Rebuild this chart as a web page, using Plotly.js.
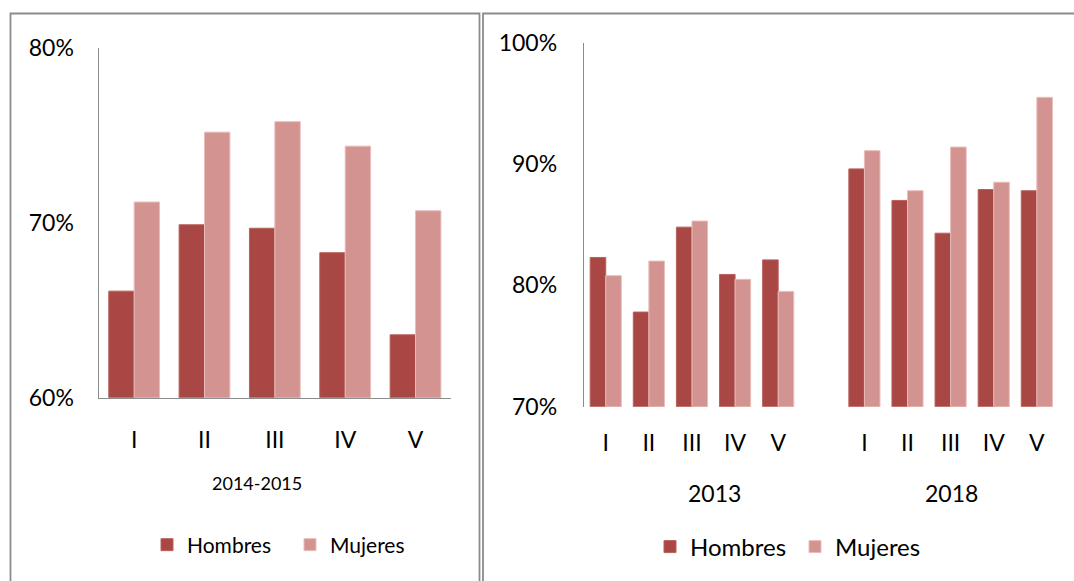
<!DOCTYPE html>
<html>
<head>
<meta charset="utf-8">
<script src="https://cdn.plot.ly/plotly-3.0.1.min.js"></script>
<style>html,body{margin:0;padding:0;background:#fff;}#chart{width:1074px;height:581px;}</style>
</head>
<body>
<div id="chart"></div>
<script>
// ---- Data ----
const groupsLeft = ['I', 'II', 'III', 'IV', 'V'];
const hombres2014_2015 = [66.1, 69.9, 69.7, 68.3, 63.6];
const mujeres2014_2015 = [71.2, 75.2, 75.8, 74.4, 70.7];

const groupsRight = ['I', 'II', 'III', 'IV', 'V'];
const hombres2013 = [82.3, 77.8, 84.8, 80.9, 82.1];
const mujeres2013 = [80.8, 82.0, 85.3, 80.5, 79.5];
const hombres2018 = [89.6, 87.0, 84.3, 87.9, 87.8];
const mujeres2018 = [91.1, 87.8, 91.4, 88.5, 95.5];

const periodLeft = '2014-2015';
const periodsRight = ['2013', '2018'];
const seriesNames = ['Hombres', 'Mujeres'];
const yTicksLeft = [60, 70, 80];
const yTicksRight = [70, 80, 90, 100];

// ---- Styling ----
const W = 1074, H = 581;
const px = v => v / W;
const py = v => 1 - v / H;
const cH = '#A94744', cM = '#D29391';
const font = 'Lato, "Open Sans", sans-serif';
const gray = '#8c8c8c';

// right panel: slots 0-4 (2013), gap slot 5, 6-10 (2018)
const xR2013 = groupsRight.map((_, i) => i);
const xR2018 = groupsRight.map((_, i) => i + groupsRight.length + 1);
const xRight = xR2013.concat(xR2018);

const traces = [
  {type: 'bar', name: seriesNames[0], x: groupsLeft, y: hombres2014_2015,
   xaxis: 'x', yaxis: 'y', legend: 'legend',
   marker: {color: cH, line: {color: '#B8605D', width: 1}}, hoverinfo: 'x+y'},
  {type: 'bar', name: seriesNames[1], x: groupsLeft, y: mujeres2014_2015,
   xaxis: 'x', yaxis: 'y', legend: 'legend',
   marker: {color: cM, line: {color: '#E8BDBC', width: 1}}, hoverinfo: 'x+y'},
  {type: 'bar', name: seriesNames[0], x: xRight, y: hombres2013.concat(hombres2018),
   xaxis: 'x2', yaxis: 'y2', legend: 'legend2',
   marker: {color: cH, line: {color: '#B8605D', width: 1}}, hoverinfo: 'y'},
  {type: 'bar', name: seriesNames[1], x: xRight, y: mujeres2013.concat(mujeres2018),
   xaxis: 'x2', yaxis: 'y2', legend: 'legend2',
   marker: {color: cM, line: {color: '#E8BDBC', width: 1}}, hoverinfo: 'y'}
];

const layout = {
  width: W, height: H,
  margin: {l: 0, r: 0, t: 0, b: 0, pad: 0},
  paper_bgcolor: '#ffffff', plot_bgcolor: 'rgba(0,0,0,0)',
  barmode: 'group', bargap: 0.278, bargroupgap: 0,
  font: {family: font, color: '#000', size: 23},
  xaxis: {
    domain: [px(99), px(450.7)], anchor: 'y',
    type: 'category', range: [-0.5, 4.5],
    showline: true, linecolor: gray, linewidth: 1.5,
    showgrid: false, zeroline: false, ticks: '',
    ticklabelstandoff: 21, tickfont: {family: font, size: 23, color: '#000'}
  },
  yaxis: {
    domain: [py(397.7), py(48.3)], anchor: 'x',
    range: [60, 80], tickmode: 'array', tickvals: yTicksLeft,
    ticktext: yTicksLeft.map(v => v + '%'),
    showline: true, linecolor: gray, linewidth: 1.5,
    showgrid: false, zeroline: false, ticks: '',
    ticklabelstandoff: 19, tickfont: {family: font, size: 23, color: '#000'}
  },
  xaxis2: {
    domain: [px(584.2), px(1058.4)], anchor: 'y2',
    range: [-0.5, 10.5], tickmode: 'array', tickvals: xRight, ticktext: groupsRight.concat(groupsRight),
    showline: false, showgrid: false, zeroline: false, ticks: '',
    ticklabelstandoff: 20, tickfont: {family: font, size: 23, color: '#000'}
  },
  yaxis2: {
    domain: [py(406.7), py(42.7)], anchor: 'x2',
    range: [70, 100], tickmode: 'array', tickvals: yTicksRight,
    ticktext: yTicksRight.map(v => v + '%'),
    showline: true, linecolor: gray, linewidth: 1.5,
    showgrid: false, zeroline: false, ticks: '',
    ticklabelstandoff: 21, tickfont: {family: font, size: 23, color: '#000'}
  },
  legend: {
    orientation: 'h', x: px(147), xanchor: 'left', y: py(545), yanchor: 'middle',
    font: {family: font, size: 21, color: '#000'}, bgcolor: 'rgba(0,0,0,0)',
    entrywidth: 98, entrywidthmode: 'pixels', traceorder: 'normal'
  },
  legend2: {
    orientation: 'h', x: px(650), xanchor: 'left', y: py(547), yanchor: 'middle',
    font: {family: font, size: 24, color: '#000'}, bgcolor: 'rgba(0,0,0,0)',
    entrywidth: 100, entrywidthmode: 'pixels', traceorder: 'normal'
  },
  annotations: [
    {text: periodLeft, xref: 'paper', yref: 'paper', x: px(256.7), y: py(482.5),
     xanchor: 'center', yanchor: 'middle', showarrow: false,
     font: {family: font, size: 18, color: '#000'}},
    {text: periodsRight[0], xref: 'paper', yref: 'paper', x: px(714), y: py(493),
     xanchor: 'center', yanchor: 'middle', showarrow: false,
     font: {family: font, size: 23, color: '#000'}},
    {text: periodsRight[1], xref: 'paper', yref: 'paper', x: px(951), y: py(493),
     xanchor: 'center', yanchor: 'middle', showarrow: false,
     font: {family: font, size: 23, color: '#000'}}
  ],
  shapes: [
    {type: 'rect', xref: 'paper', yref: 'paper', x0: px(10.5), x1: px(479.5), y0: py(620), y1: py(13.5),
     line: {color: gray, width: 1.8}, fillcolor: 'rgba(0,0,0,0)', layer: 'below'},
    {type: 'rect', xref: 'paper', yref: 'paper', x0: px(483), x1: px(1100), y0: py(620), y1: py(13.5),
     line: {color: gray, width: 1.8}, fillcolor: 'rgba(0,0,0,0)', layer: 'below'}
  ],
  showlegend: true
};

Plotly.newPlot('chart', traces, layout, {displayModeBar: false, staticPlot: true});
</script>
</body>
</html>
